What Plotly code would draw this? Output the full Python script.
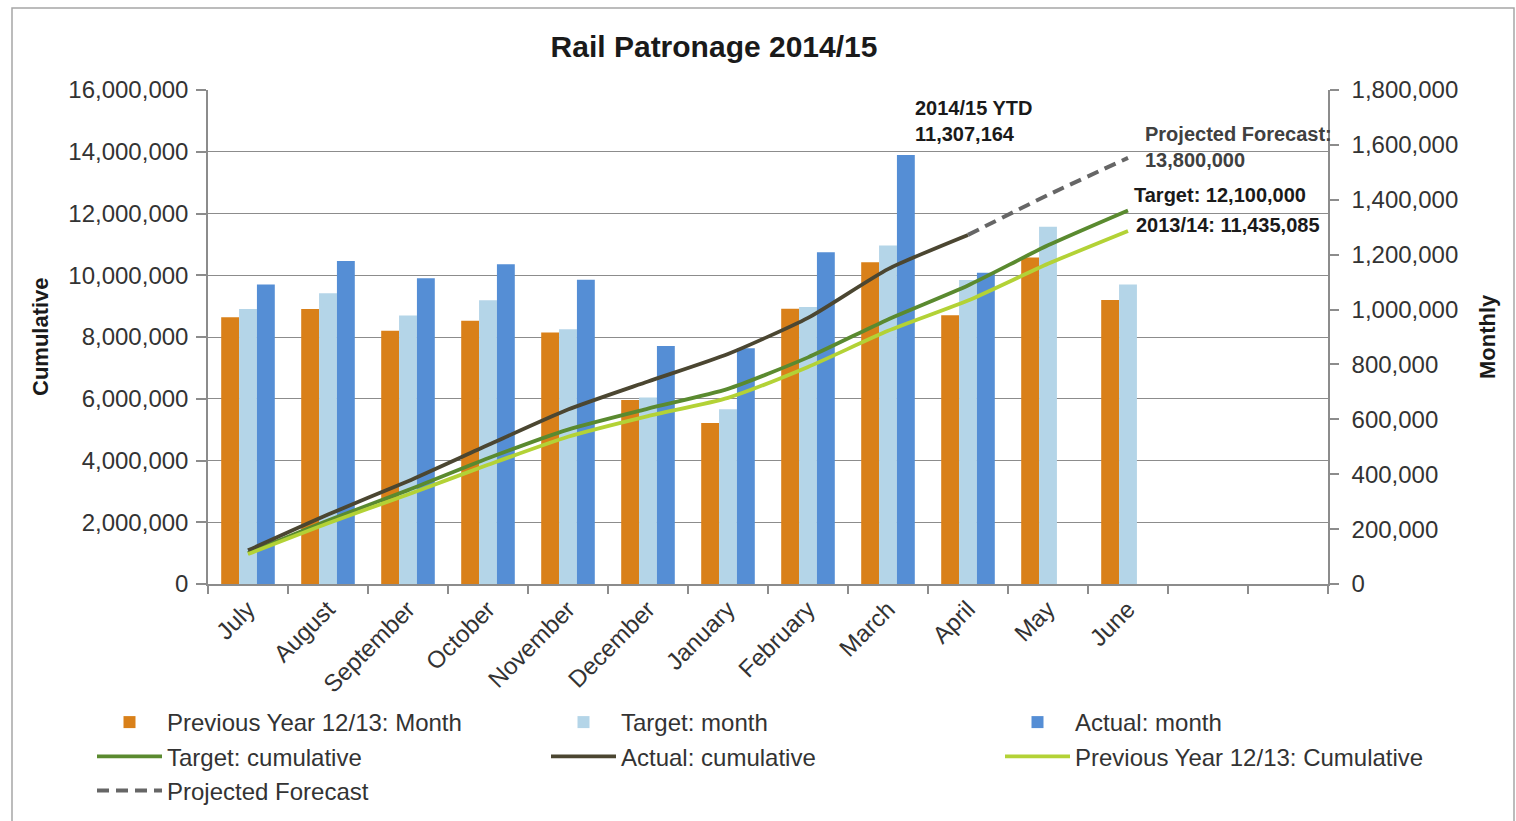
import plotly.graph_objects as go

# ---------------- data ----------------
months = ["July", "August", "September", "October", "November", "December",
          "January", "February", "March", "April", "May", "June"]
spare_slots = [" ", "  "]  # two empty category slots at the right of the axis

prev_month = [972000, 1002000, 923000, 959000, 916000, 670000,
              587000, 1003000, 1172000, 979000, 1190000, 1035000]
target_month = [1002000, 1059000, 978000, 1034000, 928000, 680000,
                637000, 1009000, 1233000, 1108000, 1302000, 1091000]
actual_months = months[:10]
actual_month = [1091000, 1177000, 1114000, 1165000, 1109000, 867000,
                859000, 1209000, 1563000, 1134000]

target_cum = [1000000, 2060000, 3040000, 4070000, 5000000, 5680000,
              6320000, 7340000, 8570000, 9670000, 10970000, 12100000]
actual_cum = [1090000, 2250000, 3330000, 4500000, 5650000, 6560000,
              7450000, 8620000, 10200000, 11307164]
prev_cum = [970000, 1970000, 2900000, 3860000, 4770000, 5440000,
            6030000, 7030000, 8200000, 9180000, 10370000, 11435085]
forecast_months = ["April", "May", "June"]
forecast_cum = [11307164, 12600000, 13800000]

left_ticks = list(range(0, 16000001, 2000000))
right_ticks = list(range(0, 1800001, 200000))

# ---------------- styling ----------------
FONT = "Liberation Sans, Arial, sans-serif"
TXT = "#333333"
AX = "#8c8c8c"

C_PREV_M = "#D98019"
C_TGT_M = "#B4D5E8"
C_ACT_M = "#558ED5"
C_TGT_C = "#5A8A2F"
C_ACT_C = "#4B4631"
C_PREV_C = "#B3D236"
C_FCST = "#666666"

W, H = 1516, 821
# plot-area pixel frame (for placing text in paper coordinates)
L, R, T, B = 208, 1328, 90, 584


def xp(px):
    return (px - L) / (R - L)


def yp(py):
    return (B - py) / (B - T)


fig = go.Figure()

# legend columns: legend (left), legend2 (middle), legend3 (right)
fig.add_trace(go.Bar(name="Previous Year 12/13: Month", x=months, y=prev_month,
                     legend="legend", legendgroup="g1",
                     marker=dict(color=C_PREV_M, line=dict(width=0)), yaxis="y"))
fig.add_trace(go.Bar(name="Target: month", x=months, y=target_month,
                     legend="legend2", legendgroup="g2",
                     marker=dict(color=C_TGT_M, line=dict(width=0)), yaxis="y"))
fig.add_trace(go.Bar(name="Actual: month", x=actual_months, y=actual_month,
                     legend="legend3", legendgroup="g3",
                     marker=dict(color=C_ACT_M, line=dict(width=0)), yaxis="y"))

fig.add_trace(go.Scatter(name="Target: cumulative", x=months, y=target_cum, mode="lines",
                         legend="legend", legendgroup="g4",
                         line=dict(color=C_TGT_C, width=3.8, shape="spline", smoothing=0.6),
                         yaxis="y2"))
fig.add_trace(go.Scatter(name="Actual: cumulative", x=actual_months, y=actual_cum, mode="lines",
                         legend="legend2", legendgroup="g5",
                         line=dict(color=C_ACT_C, width=3.8, shape="spline", smoothing=0.6),
                         yaxis="y2"))
fig.add_trace(go.Scatter(name="Previous Year 12/13: Cumulative", x=months, y=prev_cum, mode="lines",
                         legend="legend3", legendgroup="g6",
                         line=dict(color=C_PREV_C, width=3.8, shape="spline", smoothing=0.6),
                         yaxis="y2"))
fig.add_trace(go.Scatter(name="Projected Forecast", x=forecast_months, y=forecast_cum, mode="lines",
                         legend="legend", legendgroup="g7",
                         line=dict(color=C_FCST, width=4, dash="12px,7px", shape="spline", smoothing=0.6),
                         yaxis="y2"))

ANN = 20
annotations = [
    dict(text="<b>2014/15 YTD<br>11,307,164</b>", x=xp(913), y=yp(121), xanchor="left",
         yanchor="middle", align="left", font=dict(size=ANN, color="#1a1a1a")),
    dict(text="<b>Projected Forecast:<br>13,800,000</b>", x=xp(1143), y=yp(147), xanchor="left",
         yanchor="middle", align="left", font=dict(size=ANN, color="#404040")),
    dict(text="<b>Target: 12,100,000</b>", x=xp(1132), y=yp(195), xanchor="left",
         yanchor="middle", align="left", font=dict(size=ANN, color="#1a1a1a")),
    dict(text="<b>2013/14: 11,435,085</b>", x=xp(1134), y=yp(225), xanchor="left",
         yanchor="middle", align="left", font=dict(size=ANN, color="#1a1a1a")),
    dict(text="<b>Cumulative</b>", x=xp(40), y=yp(337), textangle=-90, xanchor="center",
         yanchor="middle", font=dict(size=22, color="#1a1a1a")),
    dict(text="<b>Monthly</b>", x=xp(1487), y=yp(337), textangle=-90, xanchor="center",
         yanchor="middle", font=dict(size=22, color="#1a1a1a")),
]
for a in annotations:
    a.update(xref="paper", yref="paper", showarrow=False)

TICK = 24


def legend_col(px_left):
    return dict(orientation="v", xref="container", yref="container",
                x=px_left / W, y=1 - 700 / H, xanchor="left", yanchor="top",
                itemwidth=65, font=dict(size=TICK, color=TXT), groupclick="toggleitem",
                bgcolor="rgba(0,0,0,0)", traceorder="normal", tracegroupgap=3)


fig.update_layout(
    width=W, height=H,
    margin=dict(l=L, r=W - R, t=T, b=H - B, pad=0, autoexpand=False),
    paper_bgcolor="white", plot_bgcolor="white",
    font=dict(family=FONT, size=TICK, color=TXT),
    title=dict(text="<b>Rail Patronage 2014/15</b>", x=714 / W, xref="container", xanchor="center",
               y=1 - 46 / H, yref="container", yanchor="middle",
               font=dict(size=30, color="#1a1a1a", family=FONT)),
    barmode="group", bargap=0.33, bargroupgap=0,
    xaxis=dict(type="category", categoryorder="array", categoryarray=months + spare_slots,
               range=[-0.5, 13.5], tickson="boundaries", ticks="outside", ticklen=8,
               tickcolor=AX, tickwidth=1.5, showline=True, linecolor=AX, linewidth=1.5,
               tickangle=-45, tickfont=dict(size=TICK, color=TXT), showgrid=False),
    yaxis=dict(side="right", range=[0, 1800000], tickvals=right_ticks,
               tickformat=",d", ticks="outside", ticklen=9, tickcolor=AX, tickwidth=1.5,
               ticklabelstandoff=8,
               showline=True, linecolor=AX, linewidth=1.5, showgrid=False, zeroline=False,
               tickfont=dict(size=TICK, color=TXT)),
    yaxis2=dict(overlaying="y", side="left", range=[0, 16000000], tickvals=left_ticks,
                tickformat=",d", ticks="outside", ticklen=10, tickcolor=AX, tickwidth=1.5,
                ticklabelstandoff=3,
                showline=True, linecolor=AX, linewidth=1.5, showgrid=True, gridcolor=AX,
                gridwidth=1.3, zeroline=False, tickfont=dict(size=TICK, color=TXT)),
    legend=legend_col(92),
    legend2=legend_col(546),
    legend3=legend_col(1000),
    annotations=annotations,
    shapes=[dict(type="rect", xref="paper", yref="paper", x0=xp(12), x1=xp(1514), y0=yp(835), y1=yp(8),
                 line=dict(color="#a6a6a6", width=1.5), fillcolor="rgba(0,0,0,0)", layer="below")],
)

fig.write_html("out.html", config={"displayModeBar": False},
               post_script="document.body.style.margin='0px';")
